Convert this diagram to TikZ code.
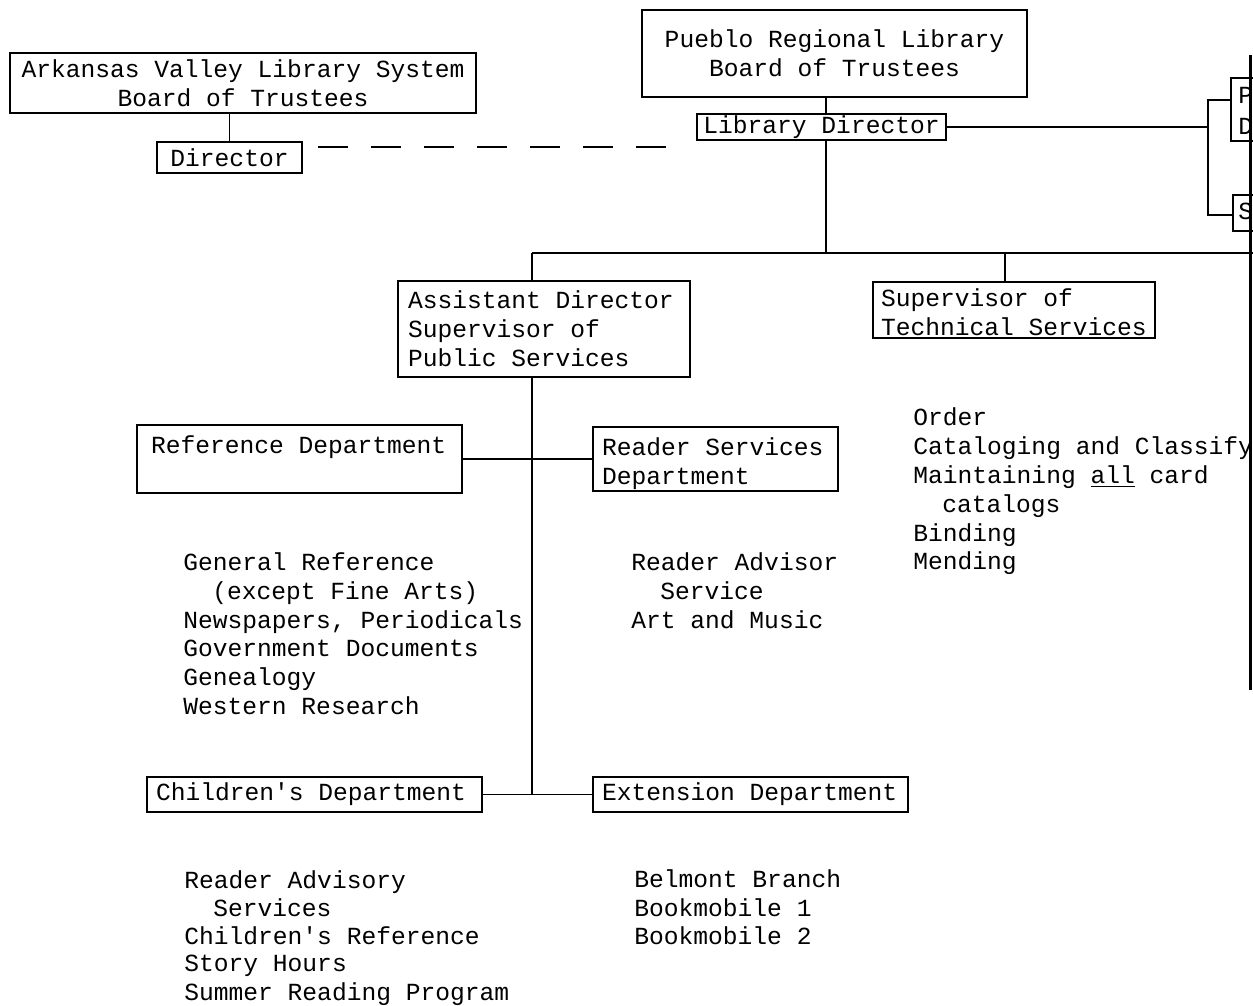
\documentclass[tikz,border=0pt]{standalone}
\usepackage{fontspec}
\setmonofont[WordSpace={1,0,0},PunctuationSpace=WordSpace]{Liberation Mono}
\begin{document}
\begin{tikzpicture}[x=0.5pt,y=-0.5pt]
\tikzset{
  every node/.style={font=\ttfamily\fontsize{12.3pt}{14.5pt}\selectfont},
  box/.style={draw, line width=0.9pt, inner ysep=0pt},
  lbox/.style={box, align=flush left},
  conn/.style={line width=0.9pt},
  item/.style={anchor=base west, inner sep=0pt},
  dashconn/.style={line width=0.9pt, dash pattern=on 15pt off 11.5pt},
  edge line/.style={line width=1.5pt}
}
\useasboundingbox (0,0) rectangle (1253,1006);

% top boxes
\node[box, minimum width=233pt, minimum height=30pt, align=center] (ark) at (243,83) {Arkansas Valley Library System\\Board of Trustees};
\node[box, minimum width=72.5pt, minimum height=15.5pt, inner xsep=0pt] (dir) at (229.5,157.5) {Director};
\node[box, minimum width=192.5pt, minimum height=43.5pt, align=center] (pueblo) at (834.5,53.5) {Pueblo Regional Library\\Board of Trustees};
\node[box, minimum width=124.5pt, minimum height=13pt, inner xsep=0pt] (libdir) at (821.5,127) {Library Director};

% cut-off boxes at the right edge
\node[box, minimum width=34.5pt, minimum height=31.5pt] (rb1) at (1265.5,109.5) {};
\node[box, minimum width=33.5pt, minimum height=18pt] (rb2) at (1266.5,213) {};
\node[item] (rb1a) at (1238,104) {P};
\node[item] (rb1b) at (1238,134) {D};
\node[item] (rb2a) at (1238,220) {S};

% second level
\node[lbox, minimum width=146pt, minimum height=48pt, inner xsep=5pt, text width=136pt] (asst) at (544,329) {Assistant Director\\Supervisor of\\Public Services};
\node[lbox, minimum width=141pt, minimum height=28pt, inner xsep=4pt, text width=133pt] (tech) at (1014,310) {\rule{0pt}{11.5pt}Supervisor of\\Technical Services};

% departments
\node[lbox, minimum width=162.5pt, minimum height=34pt, inner xsep=7pt, text width=148.5pt] (ref) at (299.5,459) {Reference Department\\~};
\node[lbox, minimum width=122.5pt, minimum height=32pt, inner xsep=4.5pt, text width=113.5pt] (reader) at (715.5,459) {\rule{0pt}{13.5pt}Reader Services\\Department};
\node[lbox, minimum width=167.5pt, minimum height=17.5pt, inner xsep=4.5pt, text width=158.5pt] (children) at (314.5,794.5) {Children's Department};
\node[lbox, minimum width=157.5pt, minimum height=17.5pt, inner xsep=4.5pt, text width=148.5pt] (extension) at (750.5,794.5) {Extension Department};

% connectors
\draw[conn] (ark.south -| dir.north) -- (dir.north);
\coordinate (dA) at (318,147);
\coordinate (dB) at (672,147);
\draw[dashconn] (dA) -- (dB);
\draw[conn] ([xshift=2.25pt]libdir.north) -- ([xshift=2.25pt]libdir.north |- pueblo.south);
\coordinate (bT) at (1208,100);
\coordinate (bB) at (1208,215);
\draw[conn] (libdir.east) -- (libdir.east -| bT);
\draw[conn] (rb1.west |- bT) -- (bT) -- (bB) -- (rb2.west |- bB);
\coordinate (hL) at (532,253);
\coordinate (hR) at (1253,253);
\coordinate (hT) at (1005,253);
\draw[conn] ([xshift=2.25pt]libdir.south) -- ([xshift=2.25pt]libdir.south |- hL);
\draw[conn] (hL) -- (hR);
\draw[conn] (hL) -- (hL |- asst.north);
\draw[conn] (hT) -- (hT |- tech.north);
\draw[conn] (hL |- asst.south) -- (hL |- children.east);
\draw[conn] (ref.east) -- (reader.west);
\draw[conn] (children.east) -- (extension.west);
\coordinate (eT) at (1250,55);
\coordinate (eB) at (1250,690);
\draw[edge line] (eT) -- (eB);

% lists
\foreach \x/\y/\t [count=\i] in {
  913/418/Order,
  913/447/Cataloging and Classify,
  913/476/{Maintaining \underline{all} card},
  942/505/catalogs,
  913/534/Binding,
  913/562/Mending}
  \node[item] (techl\i) at (\x,\y+7) {\t};

\foreach \x/\y/\t [count=\i] in {
  183/563/General Reference,
  212/592/(except Fine Arts),
  183/621/{Newspapers, Periodicals},
  183/649/Government Documents,
  183/678/Genealogy,
  183/707/Western Research}
  \node[item] (refl\i) at (\x,\y+7) {\t};

\foreach \x/\y/\t [count=\i] in {
  631/563/Reader Advisor,
  660/592/Service,
  631/621/Art and Music}
  \node[item] (readl\i) at (\x,\y+7) {\t};

\foreach \x/\y/\t [count=\i] in {
  184/881/Reader Advisory,
  213/909/Services,
  184/937/Children's Reference,
  184/964/Story Hours,
  184/993/Summer Reading Program}
  \node[item] (chl\i) at (\x,\y+7) {\t};

\foreach \x/\y/\t [count=\i] in {
  634/880/Belmont Branch,
  634/909/Bookmobile 1,
  634/937/Bookmobile 2}
  \node[item] (extl\i) at (\x,\y+7) {\t};
\end{tikzpicture}
\end{document}
